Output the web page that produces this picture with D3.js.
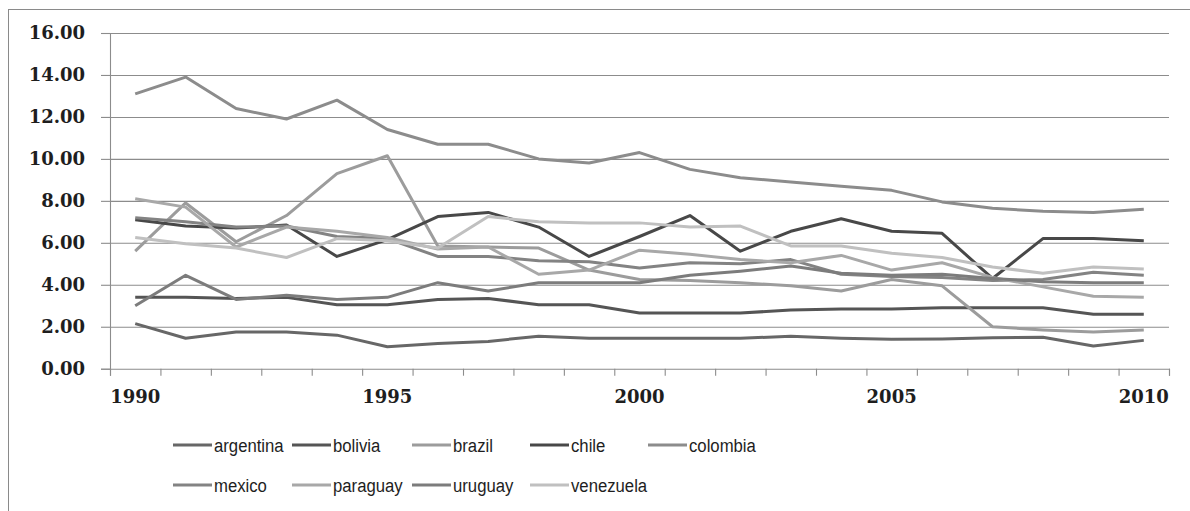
<!DOCTYPE html>
<html>
<head>
<meta charset="utf-8">
<script src="https://cdn.jsdelivr.net/npm/d3@7"></script>
<style>
  html, body { margin: 0; padding: 0; background: #fff; }
  svg { display: block; }
</style>
</head>
<body>
<svg id="chart" width="1190" height="511"></svg>
<script>
// Years on the category axis
const years = d3.range(1990, 2011);

// Series values, one array per country (1990–2010)
const argentina = [2.15, 1.45, 1.75, 1.75, 1.6, 1.05, 1.2, 1.3, 1.55, 1.45, 1.45, 1.45, 1.45, 1.55, 1.45, 1.4, 1.42, 1.47, 1.5, 1.08, 1.35];
const bolivia   = [3.4, 3.4, 3.35, 3.4, 3.05, 3.05, 3.3, 3.35, 3.05, 3.05, 2.65, 2.65, 2.65, 2.8, 2.85, 2.85, 2.9, 2.9, 2.9, 2.6, 2.6];
const brazil    = [5.6, 7.9, 6.05, 7.3, 9.3, 10.15, 5.85, 5.8, 5.75, 4.7, 4.25, 4.2, 4.1, 3.95, 3.7, 4.25, 3.95, 2.0, 1.85, 1.75, 1.85];
const chile     = [7.1, 6.8, 6.7, 6.85, 5.35, 6.15, 7.25, 7.45, 6.75, 5.35, 6.3, 7.3, 5.6, 6.55, 7.15, 6.55, 6.45, 4.3, 6.2, 6.2, 6.1];
const colombia  = [13.1, 13.9, 12.4, 11.9, 12.8, 11.4, 10.7, 10.7, 10.0, 9.8, 10.3, 9.5, 9.1, 8.9, 8.7, 8.5, 7.95, 7.65, 7.5, 7.45, 7.6];
const mexico    = [7.2, 7.0, 6.75, 6.8, 6.3, 6.2, 5.35, 5.35, 5.15, 5.1, 4.8, 5.05, 5.0, 5.2, 4.5, 4.4, 4.35, 4.2, 4.25, 4.6, 4.45];
const paraguay  = [8.1, 7.7, 5.8, 6.75, 6.55, 6.25, 5.7, 5.8, 4.5, 4.7, 5.65, 5.45, 5.2, 5.05, 5.4, 4.7, 5.05, 4.35, 3.9, 3.45, 3.4];
const uruguay   = [3.0, 4.45, 3.3, 3.5, 3.3, 3.4, 4.1, 3.7, 4.1, 4.1, 4.1, 4.45, 4.65, 4.9, 4.55, 4.45, 4.5, 4.3, 4.15, 4.1, 4.1];
const venezuela = [6.25, 5.95, 5.75, 5.3, 6.2, 6.1, 5.75, 7.25, 7.0, 6.95, 6.95, 6.75, 6.8, 5.85, 5.85, 5.5, 5.3, 4.85, 4.55, 4.85, 4.75];

// Axis tick values and labels
const yTicks = [0, 2, 4, 6, 8, 10, 12, 14, 16];
const xLabelYears = [1990, 1995, 2000, 2005, 2010];

const seriesNames = ["argentina", "bolivia", "brazil", "chile", "colombia", "mexico", "paraguay", "uruguay", "venezuela"];
const seriesValues = [argentina, bolivia, brazil, chile, colombia, mexico, paraguay, uruguay, venezuela];
const seriesColors = ["#676767", "#555555", "#9c9c9c", "#484848", "#8c8c8c", "#838383", "#a8a8a8", "#7c7c7c", "#c0c0c0"];

const series = seriesNames.map((name, i) => ({ name, values: seriesValues[i], color: seriesColors[i] }));

const svg = d3.select("#chart");

// Outer chart frame
svg.append("rect")
  .attr("x", 8.5).attr("y", 9.5)
  .attr("width", 1200).attr("height", 520)
  .attr("fill", "none").attr("stroke", "#8a8a8a").attr("stroke-width", 1);

const plot = { left: 110, right: 1169, top: 33, bottom: 368.7 };

const x = d3.scaleBand().domain(years).range([plot.left, plot.right]).padding(0);
const xEdge = d3.scaleLinear().domain([0, years.length]).range([plot.left, plot.right]);
const y = d3.scaleLinear().domain([0, 16]).range([plot.bottom, plot.top]);
const cx = yr => x(yr) + x.bandwidth() / 2;

// Horizontal gridlines
svg.append("g")
  .attr("transform", `translate(${plot.left},0)`)
  .call(d3.axisLeft(y).tickValues(yTicks.filter(d => d > 0)).tickSize(-(plot.right - plot.left)).tickFormat(""))
  .call(g => g.select(".domain").remove())
  .call(g => g.selectAll("line").attr("stroke", "#8c8c8c").attr("stroke-width", 1.1));

// Y axis with labels
svg.append("g")
  .attr("transform", `translate(${plot.left},0)`)
  .call(d3.axisLeft(y).tickValues(yTicks).tickSize(9).tickPadding(16).tickFormat(d3.format(".2f")))
  .call(g => g.selectAll("line").attr("stroke", "#8c8c8c").attr("stroke-width", 1.1))
  .call(g => g.select(".domain").attr("stroke", "#8c8c8c").attr("stroke-width", 1.1))
  .call(g => g.selectAll("text")
    .attr("font-family", "'DejaVu Serif', serif")
    .attr("font-weight", "bold")
    .attr("font-size", 18)
    .attr("fill", "#1e1e1e"));

// X axis: tick marks between categories
svg.append("g")
  .attr("transform", `translate(0,${plot.bottom})`)
  .call(d3.axisBottom(xEdge).tickValues(d3.range(years.length + 1)).tickSize(7).tickFormat(""))
  .call(g => g.selectAll("line").attr("stroke", "#8c8c8c").attr("stroke-width", 1.1))
  .call(g => g.select(".domain").attr("stroke", "#8c8c8c").attr("stroke-width", 1.1));

// X labels centred on their categories
svg.append("g").selectAll("text")
  .data(xLabelYears)
  .join("text")
  .attr("x", d => cx(d))
  .attr("y", 403)
  .attr("text-anchor", "middle")
  .attr("font-family", "'DejaVu Serif', serif")
  .attr("font-weight", "bold")
  .attr("font-size", 18)
  .attr("fill", "#1e1e1e")
  .text(d => d);

// Lines
const line = d3.line()
  .x((d, i) => cx(years[i]))
  .y(d => y(d));

svg.append("g").selectAll("path")
  .data(series)
  .join("path")
  .attr("d", d => line(d.values))
  .attr("fill", "none")
  .attr("stroke", d => d.color)
  .attr("stroke-width", 3)
  .attr("stroke-linejoin", "round");

// Legend, two rows
const legendCols = [173, 292, 412, 530, 648];
const legendRows = [445, 485];
const legend = svg.append("g").selectAll("g")
  .data(series)
  .join("g")
  .attr("transform", (d, i) => `translate(${legendCols[i % 5]},${legendRows[Math.floor(i / 5)]})`);

legend.append("line")
  .attr("x1", 0).attr("x2", 39)
  .attr("y1", 0).attr("y2", 0)
  .attr("stroke", d => d.color)
  .attr("stroke-width", 3);

// Condensed sans labels
legend.append("text")
  .attr("transform", "translate(41,0) scale(0.88,1)")
  .attr("dy", "0.35em")
  .attr("font-family", "'Liberation Sans', Arial, sans-serif")
  .attr("font-size", 19)
  .attr("fill", "#1e1e1e")
  .text(d => d.name);
</script>
</body>
</html>
